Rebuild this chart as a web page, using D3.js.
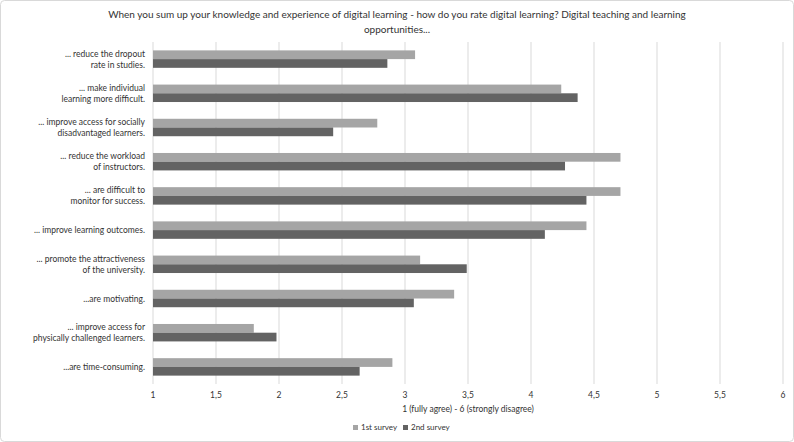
<!DOCTYPE html>
<meta charset="utf-8">
<head>
  <script src="https://d3js.org/d3.v7.min.js"></script>
  <style>
    body { margin: 0; background: #fff; font-family: Lato, "Open Sans", sans-serif; }
    svg text { fill: #333; }
  </style>
</head>
<body>
<div id="chart"></div>
<script>
  // items, top to bottom
  var items = [
    ["... reduce the dropout", "rate in studies."],
    ["... make individual", "learning more difficult."],
    ["... improve access for socially", "disadvantaged learners."],
    ["... reduce the workload", "of instructors."],
    ["... are difficult to", "monitor for success."],
    ["... improve learning outcomes."],
    ["... promote the attractiveness", "of the university."],
    ["...are motivating."],
    ["... improve access for", "physically challenged learners."],
    ["...are time-consuming."]
  ];
  var survey1 = [3.08, 4.24, 2.78, 4.71, 4.71, 4.44, 3.12, 3.39, 1.80, 2.90];
  var survey2 = [2.86, 4.37, 2.43, 4.27, 4.44, 4.11, 3.49, 3.07, 1.98, 2.64];
  var seriesNames = ["1st survey", "2nd survey"];
  var ticks = [1, 1.5, 2, 2.5, 3, 3.5, 4, 4.5, 5, 5.5, 6];
  var colors = ["#a5a5a5", "#636363"];

  var width = 794, height = 442;
  // plot area (window.top is reserved, so use plotTop)
  var plotLeft = 153, plotRight = 783, plotTop = 42, plotBottom = 384;

  var svg = d3.select("#chart").append("svg")
    .attr("width", width).attr("height", height);

  // chart area border
  svg.append("rect")
    .attr("x", 0.5).attr("y", 0.5)
    .attr("width", width - 1).attr("height", height - 1)
    .attr("rx", 4)
    .attr("fill", "#fff").attr("stroke", "#d9d9d9");

  svg.append("text")
    .attr("x", width / 2).attr("y", 18)
    .attr("text-anchor", "middle")
    .style("font-size", "10px")
    .selectAll("tspan")
    .data(["When you sum up your knowledge and experience of digital learning - how do you rate digital learning? Digital teaching and learning", "opportunities..."])
    .enter().append("tspan")
      .attr("x", width / 2)
      .attr("dy", function(d, i) { return i ? 15 : 0; })
      .text(function(d) { return d; });

  var x = d3.scaleLinear().domain([1, 6]).range([plotLeft, plotRight]);
  var y = d3.scaleBand().domain(d3.range(items.length)).range([plotTop, plotBottom]).paddingInner(0.49).paddingOuter(0.245);

  // gridlines
  svg.append("g").selectAll("line")
    .data(ticks).enter().append("line")
      .attr("x1", function(d) { return x(d); })
      .attr("x2", function(d) { return x(d); })
      .attr("y1", plotTop).attr("y2", plotBottom)
      .attr("stroke", "#d9d9d9").attr("stroke-width", 1);

  var sub = d3.scaleBand().domain([0, 1]).range([0, y.bandwidth()]);
  var data = [survey1, survey2];

  data.forEach(function(series, s) {
    svg.append("g").selectAll("rect")
      .data(series).enter().append("rect")
        .attr("x", x(1))
        .attr("y", function(d, i) { return y(i) + sub(s); })
        .attr("width", function(d) { return x(d) - x(1); })
        .attr("height", sub.bandwidth())
        .attr("fill", colors[s]);
  });

  // category labels
  var lab = svg.append("g").selectAll("text")
    .data(items).enter().append("text")
      .attr("text-anchor", "end")
      .style("font-size", "8.5px")
      .attr("y", function(d, i) { return y(i) + y.bandwidth() / 2; });
  lab.selectAll("tspan")
    .data(function(d) { return d; })
    .enter().append("tspan")
      .attr("x", plotLeft - 8)
      .attr("dy", function(d, i, n) {
        if (i === 0) return (n.length === 1 ? 3 : -2.5);
        return 11;
      })
      .text(function(d) { return d; });

  // x axis tick labels
  svg.append("g").selectAll("text")
    .data(ticks).enter().append("text")
      .attr("x", function(d) { return x(d); })
      .attr("y", 398)
      .attr("text-anchor", "middle")
      .style("font-size", "8.5px")
      .text(function(d) { return String(d).replace(".", ","); });

  svg.append("text")
    .attr("x", (plotLeft + plotRight) / 2).attr("y", 412)
    .attr("text-anchor", "middle")
    .style("font-size", "8.5px")
    .text("1 (fully agree) - 6 (strongly disagree)");

  // legend
  var leg = svg.append("g").selectAll("g")
    .data(seriesNames).enter().append("g")
      .attr("transform", function(d, i) { return "translate(" + (353 + i * 50) + ",430)"; });
  leg.append("rect")
    .attr("x", 0).attr("y", -5).attr("width", 5).attr("height", 5)
    .attr("fill", function(d, i) { return colors[i]; });
  leg.append("text")
    .attr("x", 8).attr("y", 0)
    .style("font-size", "8px")
    .text(function(d) { return d; });
</script>
</body>
